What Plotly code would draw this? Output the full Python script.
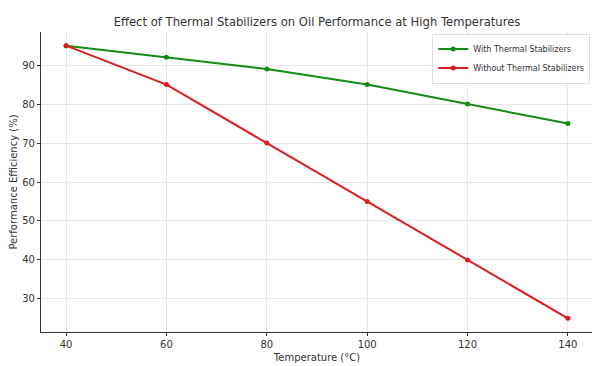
import plotly.graph_objects as go

temperature = [40, 60, 80, 100, 120, 140]
with_stabilizers = [95, 92, 89, 85, 80, 75]
without_stabilizers = [95, 85, 70, 55, 40, 25]

fig = go.Figure()
fig.add_trace(go.Scatter(x=temperature, y=with_stabilizers, mode="lines+markers",
                         name="With Thermal Stabilizers",
                         line=dict(color="#138a13", width=2), marker=dict(size=5, color="#138a13")))
fig.add_trace(go.Scatter(x=temperature, y=without_stabilizers, mode="lines+markers",
                         name="Without Thermal Stabilizers",
                         line=dict(color="#dd1c1c", width=2), marker=dict(size=5, color="#dd1c1c")))

# page body has an 8px margin; figure sized to fit the 600x366 window
font = "DejaVu Sans, sans-serif"
fig.update_layout(
    width=592, height=358,
    margin=dict(l=33, r=7, t=24, b=34),
    paper_bgcolor="white", plot_bgcolor="white",
    font=dict(family=font, size=10, color="#333333"),
    title=dict(text="Effect of Thermal Stabilizers on Oil Performance at High Temperatures",
               x=0.522, xanchor="center", y=0.961, yanchor="middle",
               font=dict(size=11.6, color="#333333")),
    legend=dict(x=0.995, xanchor="right", y=0.995, yanchor="top",
                bgcolor="rgba(255,255,255,0.9)", bordercolor="#dddddd", borderwidth=1,
                font=dict(size=8, color="#333333"), tracegroupgap=0,
                itemwidth=30),
    showlegend=True,
)
fig.update_xaxes(range=[35, 145], tickvals=[40, 60, 80, 100, 120, 140],
                 showgrid=True, gridcolor="#e6e6e6", gridwidth=1,
                 showline=True, linecolor="#333333", linewidth=1.2,
                 ticks="outside", ticklen=3, tickcolor="#333333",
                 zeroline=False, automargin=False,
                 title=dict(text="Temperature (°C)", font=dict(size=10), standoff=4))
fig.update_yaxes(range=[21.5, 98.5], tickvals=[30, 40, 50, 60, 70, 80, 90],
                 showgrid=True, gridcolor="#e6e6e6", gridwidth=1,
                 showline=True, linecolor="#333333", linewidth=1.2,
                 ticks="outside", ticklen=3, tickcolor="#333333",
                 zeroline=False, automargin=False,
                 title=dict(text="Performance Efficiency (%)", font=dict(size=10), standoff=6))

fig.write_html("out.html")
